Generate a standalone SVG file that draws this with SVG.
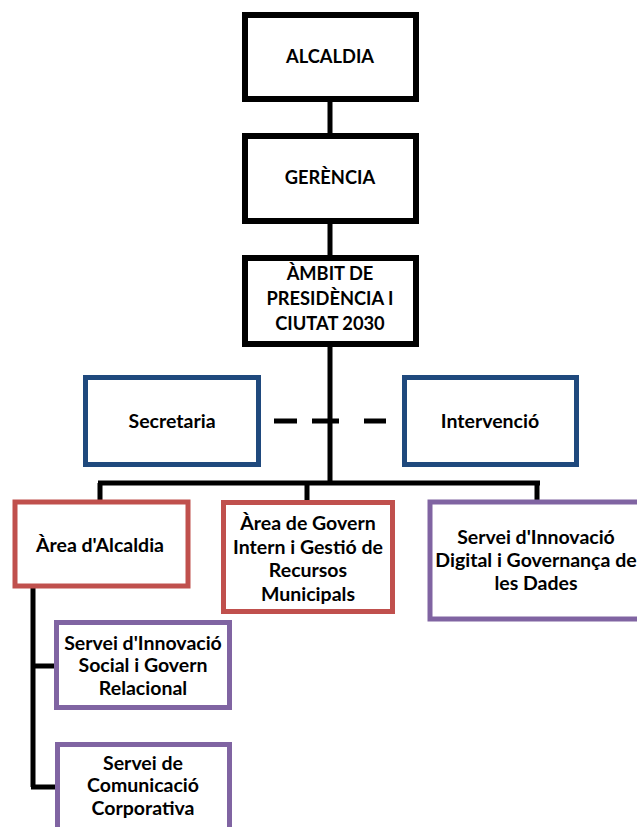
<svg xmlns="http://www.w3.org/2000/svg" width="637" height="827" viewBox="0 0 637 827">
<style>
.box{fill:#fff}
.blk{stroke:#000;stroke-width:6}
.blu{stroke:#1F497D;stroke-width:5}
.red{stroke:#C0504D;stroke-width:5}
.pur{stroke:#8064A2;stroke-width:5}
text{font-family:Lato,"Liberation Sans",sans-serif;font-weight:bold;font-size:19.5px;fill:#000;text-anchor:middle}
text.h{font-size:18.3px}
.con{stroke:#000;stroke-width:5;fill:none}
</style>
<rect width="637" height="827" fill="#fff"/>
<g id="connectors">
<path class="con" d="M330 99 V483"/>
<path class="con" d="M98 483 H540 M100 483 V502 M307 483 V502 M537 483 V502"/>
<path class="con" d="M274 421 H297 M312 421 H339 M364 421 H386"/>
<path class="con" d="M33 586 V787 M33 666 H57 M31 787 H57"/>
</g>
<g id="alcaldia"><rect class="box blk" x="245" y="15" width="171" height="84"/><text class="h" x="330" y="63">ALCALDIA</text></g>
<g id="gerencia"><rect class="box blk" x="245" y="136" width="171" height="85"/><text class="h" x="330" y="184">GERÈNCIA</text></g>
<g id="ambit"><rect class="box blk" x="245" y="258" width="171" height="86"/><text class="h" x="330" y="280">ÀMBIT DE</text><text class="h" x="330" y="305">PRESIDÈNCIA I</text><text class="h" x="330" y="330">CIUTAT 2030</text></g>
<g id="secretaria"><rect class="box blu" x="85.5" y="377.5" width="173" height="87"/><text x="172" y="428">Secretaria</text></g>
<g id="intervencio"><rect class="box blu" x="404.5" y="377.5" width="172" height="87"/><text x="490" y="428">Intervenció</text></g>
<g id="area-alcaldia"><rect class="box red" x="15" y="502" width="173" height="84"/><text x="100" y="552">Àrea d'Alcaldia</text></g>
<g id="area-govern"><rect class="box red" x="223.5" y="502.5" width="169" height="109"/><text x="308" y="530">Àrea de Govern</text><text x="308" y="554">Intern i Gestió de</text><text x="308" y="577">Recursos</text><text x="308" y="601">Municipals</text></g>
<g id="servei-digital"><rect class="box pur" x="430" y="502" width="215" height="117"/><text x="536" y="544">Servei d'Innovació</text><text x="536" y="567">Digital i Governança de</text><text x="536" y="590">les Dades</text></g>
<g id="servei-social"><rect class="box pur" x="56.5" y="622.5" width="173" height="85"/><text x="143" y="650">Servei d'Innovació</text><text x="143" y="672">Social i Govern</text><text x="143" y="695">Relacional</text></g>
<g id="servei-comunicacio"><rect class="box pur" x="57.5" y="744.5" width="172" height="100"/><text x="143" y="770">Servei de</text><text x="143" y="792">Comunicació</text><text x="143" y="815">Corporativa</text></g>
</svg>
